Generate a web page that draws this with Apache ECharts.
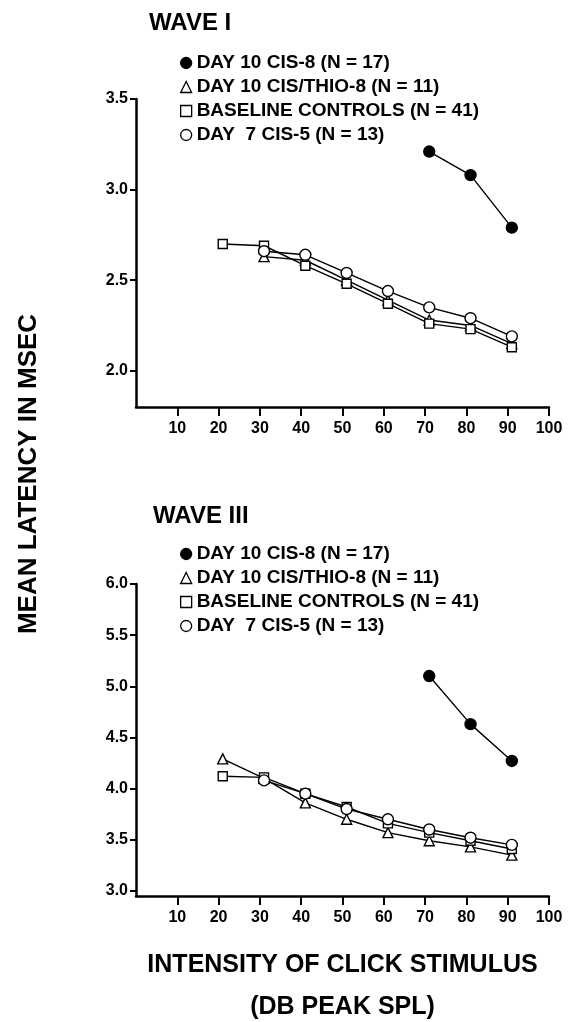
<!DOCTYPE html>
<html>
<head>
<meta charset="utf-8">
<script src="https://cdn.jsdelivr.net/npm/echarts@6/dist/echarts.min.js"></script>
<style>
html,body{margin:0;padding:0;background:#fff;}
#chart{width:568px;height:1022px;}
</style>
</head>
<body>
<div id="chart"></div>
<script>
// ---- data ----
const xTicks = [10, 20, 30, 40, 50, 60, 70, 80, 90, 100];
const wave1Ticks = [2.0, 2.5, 3.0, 3.5];
const wave3Ticks = [3.0, 3.5, 4.0, 4.5, 5.0, 5.5, 6.0];

const seriesNames = [
  'DAY 10 CIS-8 (N = 17)',
  'DAY 10 CIS/THIO-8 (N = 11)',
  'BASELINE CONTROLS (N = 41)',
  'DAY  7 CIS-5 (N = 13)'
];

// Wave I
const w1Cis8X = [71, 81, 91];
const w1Cis8Y = [3.21, 3.08, 2.79];
const w1ThioX = [31, 41, 51, 61, 71, 81, 91];
const w1ThioY = [2.63, 2.61, 2.50, 2.39, 2.28, 2.25, 2.15];
const w1BaseX = [21, 31, 41, 51, 61, 71, 81, 91];
const w1BaseY = [2.70, 2.69, 2.58, 2.48, 2.37, 2.26, 2.23, 2.13];
const w1Cis5X = [31, 41, 51, 61, 71, 81, 91];
const w1Cis5Y = [2.66, 2.64, 2.54, 2.44, 2.35, 2.29, 2.19];

// Wave III
const w3Cis8X = [71, 81, 91];
const w3Cis8Y = [5.10, 4.63, 4.27];
const w3ThioX = [21, 31, 41, 51, 61, 71, 81, 91];
const w3ThioY = [4.29, 4.10, 3.86, 3.70, 3.57, 3.49, 3.43, 3.35];
const w3BaseX = [21, 31, 41, 51, 61, 71, 81, 91];
const w3BaseY = [4.12, 4.11, 3.95, 3.82, 3.66, 3.57, 3.49, 3.41];
const w3Cis5X = [31, 41, 51, 61, 71, 81, 91];
const w3Cis5Y = [4.08, 3.95, 3.80, 3.70, 3.60, 3.52, 3.45];

// ---- styling ----
const FONT = 'Liberation Sans';
const pair = (xs, ys) => xs.map((x, i) => [x, ys[i]]);
const symbols = [
  {symbol: 'circle', size: 11, fill: '#000'},
  {symbol: 'triangle', size: 10, fill: '#fff'},
  {symbol: 'rect', size: 9, fill: '#fff'},
  {symbol: 'circle', size: 11, fill: '#fff'}
];

function makeSeries(idx, datasets) {
  return datasets.map((d, k) => ({
    type: 'line',
    name: seriesNames[k],
    xAxisIndex: idx, yAxisIndex: idx,
    data: d,
    symbol: symbols[k].symbol,
    symbolSize: symbols[k].size,
    showAllSymbol: true,
    lineStyle: {color: '#000', width: 1.4},
    itemStyle: {color: symbols[k].fill, borderColor: '#000', borderWidth: 1.4},
    emphasis: {disabled: true},
    z: 2 + (k === 3 ? 1 : 0),
    animation: false
  }));
}

function makeLegend(top) {
  return {
    orient: 'vertical',
    left: 175, top: top,
    itemWidth: 11, itemHeight: 11,
    itemGap: 4,
    itemTextGap: 9,
    selectedMode: false,
    textStyle: {fontFamily: FONT, fontWeight: 'bold', fontSize: 19, color: '#000', lineHeight: 20},
    data: seriesNames.map((n, k) => ({
      name: n,
      icon: symbols[k].symbol,
      itemStyle: {color: symbols[k].fill, borderColor: '#000', borderWidth: 1.3}
    }))
  };
}

function makeX(idx, showName) {
  return {
    type: 'value', gridIndex: idx, min: 0, max: 100,
    axisLine: {show: true, lineStyle: {color: '#000', width: 2.5}},
    axisTick: {show: true, length: 9, lineStyle: {color: '#000', width: 2}, customValues: xTicks},
    axisLabel: {show: true, customValues: xTicks, margin: 14, color: '#000',
      fontFamily: FONT, fontWeight: 'bold', fontSize: 16},
    splitLine: {show: false},
    name: showName ? 'INTENSITY OF CLICK STIMULUS\n(DB PEAK SPL)' : '',
    nameLocation: 'middle', nameGap: 48,
    nameMoveOverlap: false,
    nameTextStyle: {fontFamily: FONT, fontWeight: 'bold', fontSize: 25, color: '#000', lineHeight: 42}
  };
}

function makeY(idx, min, max, ticks) {
  return {
    type: 'value', gridIndex: idx, min: min, max: max,
    axisLine: {show: true, lineStyle: {color: '#000', width: 2.5}},
    axisTick: {show: true, length: 6, lineStyle: {color: '#000', width: 2}, customValues: ticks},
    axisLabel: {show: true, customValues: ticks, margin: 8, color: '#000',
      fontFamily: FONT, fontWeight: 'bold', fontSize: 16,
      formatter: v => Number(v).toFixed(1)},
    splitLine: {show: false}
  };
}

const chart = echarts.init(document.getElementById('chart'), null, {renderer: 'canvas'});
chart.setOption({
  backgroundColor: '#fff',
  animation: false,
  title: [
    {text: 'WAVE I', left: 149, top: 11, padding: 0,
     textStyle: {fontFamily: FONT, fontWeight: 'bold', fontSize: 24, color: '#000'}},
    {text: 'WAVE III', left: 153, top: 504, padding: 0,
     textStyle: {fontFamily: FONT, fontWeight: 'bold', fontSize: 24, color: '#000'}}
  ],
  legend: [makeLegend(48), makeLegend(539)],
  grid: [
    {left: 136, right: 19, top: 99, height: 308, containLabel: false, outerBoundsMode: 'none'},
    {left: 136, right: 19, top: 584, height: 312, containLabel: false, outerBoundsMode: 'none'}
  ],
  xAxis: [makeX(0, false), makeX(1, true)],
  yAxis: [makeY(0, 1.8, 3.5, wave1Ticks), makeY(1, 2.95, 6.0, wave3Ticks)],
  graphic: [{
    type: 'text', x: 29, y: 474,
    rotation: Math.PI / 2,
    style: {text: 'MEAN LATENCY IN MSEC', font: 'bold 26px "Liberation Sans"', fill: '#000',
      align: 'center', verticalAlign: 'middle'}
  }],
  series: [
    ...makeSeries(0, [pair(w1Cis8X, w1Cis8Y), pair(w1ThioX, w1ThioY), pair(w1BaseX, w1BaseY), pair(w1Cis5X, w1Cis5Y)]),
    ...makeSeries(1, [pair(w3Cis8X, w3Cis8Y), pair(w3ThioX, w3ThioY), pair(w3BaseX, w3BaseY), pair(w3Cis5X, w3Cis5Y)])
  ]
});
</script>
</body>
</html>
